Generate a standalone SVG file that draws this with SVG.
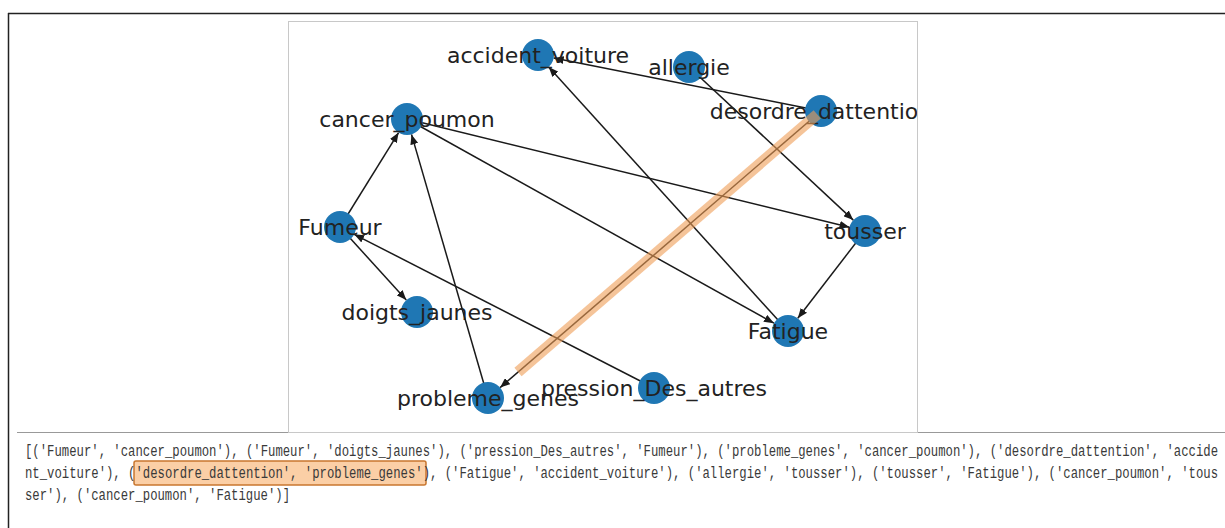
<svg xmlns="http://www.w3.org/2000/svg" width="1225" height="528" viewBox="0 0 1225 528">
<style>
.lbl{font-family:"DejaVu Sans",sans-serif;font-size:22px;fill:#222;text-anchor:middle}
.nd{fill:#1f77b4}
.ed{stroke:#1a1a1a;stroke-width:1.5;fill:none;marker-end:url(#ah)}
.code{font-family:"Liberation Mono",monospace;font-size:16px;fill:#3a3a3a}
</style>
<defs>
<marker id="ah" markerUnits="userSpaceOnUse" markerWidth="10" markerHeight="8" refX="10" refY="4" orient="auto">
<path d="M0,0 L10,4 L0,8 z" fill="#1a1a1a"/>
</marker>
<clipPath id="plot"><rect x="288" y="21" width="629" height="411"/></clipPath>
</defs>
<rect width="1225" height="528" fill="#fff"/>
<g id="frame">
<line x1="8" y1="13.5" x2="1225" y2="13.5" stroke="#222" stroke-width="1.5"/>
<line x1="8.5" y1="13" x2="8.5" y2="528" stroke="#222" stroke-width="1.5"/>
<line x1="17" y1="432.5" x2="1225" y2="432.5" stroke="#999" stroke-width="1"/>
<rect x="288.5" y="21.5" width="629" height="411" fill="#fff" stroke="#c8c8c8" stroke-width="1"/>
</g>
<g clip-path="url(#plot)">
<g id="connectors">
<line class="ed" x1="340" y1="227" x2="398.6" y2="132.6"/>
<line class="ed" x1="340" y1="227" x2="406.3" y2="300.1"/>
<line class="ed" x1="654" y1="388" x2="354.2" y2="234.3"/>
<line class="ed" x1="488" y1="398" x2="411.5" y2="134.4"/>
<line class="ed" x1="821" y1="111" x2="553.7" y2="58.1"/>
<line class="ed" x1="821" y1="111" x2="500.1" y2="387.6"/>
<line class="ed" x1="788" y1="331" x2="548.7" y2="66.9"/>
<line class="ed" x1="689" y1="67" x2="853.3" y2="220.1"/>
<line class="ed" x1="865" y1="231" x2="797.8" y2="318.3"/>
<line class="ed" x1="407" y1="119" x2="849.5" y2="227.2"/>
<line class="ed" x1="407" y1="119" x2="774" y2="323.2"/>
</g>
<g id="node-accident_voiture"><circle class="nd" cx="538" cy="55" r="16"/><text class="lbl" x="538" y="62.5">accident_voiture</text></g>
<g id="node-allergie"><circle class="nd" cx="689" cy="67" r="16"/><text class="lbl" x="689" y="74.5">allergie</text></g>
<g id="node-desordre_dattention"><circle class="nd" cx="821" cy="111" r="16"/><text class="lbl" x="821" y="118.5">desordre_dattention</text></g>
<g id="node-cancer_poumon"><circle class="nd" cx="407" cy="119" r="16"/><text class="lbl" x="407" y="126.5">cancer_poumon</text></g>
<g id="node-Fumeur"><circle class="nd" cx="340" cy="227" r="16"/><text class="lbl" x="340" y="234.5">Fumeur</text></g>
<g id="node-tousser"><circle class="nd" cx="865" cy="231" r="16"/><text class="lbl" x="865" y="238.5">tousser</text></g>
<g id="node-doigts_jaunes"><circle class="nd" cx="417" cy="312" r="16"/><text class="lbl" x="417" y="319.5">doigts_jaunes</text></g>
<g id="node-Fatigue"><circle class="nd" cx="788" cy="331" r="16"/><text class="lbl" x="788" y="338.5">Fatigue</text></g>
<g id="node-probleme_genes"><circle class="nd" cx="488" cy="398" r="16"/><text class="lbl" x="488" y="405.5">probleme_genes</text></g>
<g id="node-pression_Des_autres"><circle class="nd" cx="654" cy="388" r="16"/><text class="lbl" x="654" y="395.5">pression_Des_autres</text></g>
<g id="highlight">
<line x1="817.2" y1="114.3" x2="518" y2="372" stroke="#ef9c55" stroke-opacity="0.6" stroke-width="11"/>
</g>
</g>
<g id="output-text">
<rect x="134" y="461" width="292" height="24" rx="2" fill="#fbcfa6" stroke="#c9772f" stroke-width="1.5"/>
<text class="code" x="25" y="456" textLength="1193" lengthAdjust="spacingAndGlyphs">[('Fumeur', 'cancer_poumon'), ('Fumeur', 'doigts_jaunes'), ('pression_Des_autres', 'Fumeur'), ('probleme_genes', 'cancer_poumon'), ('desordre_dattention', 'accide</text>
<text class="code" x="25" y="478" textLength="1193" lengthAdjust="spacingAndGlyphs">nt_voiture'), ('desordre_dattention', 'probleme_genes'), ('Fatigue', 'accident_voiture'), ('allergie', 'tousser'), ('tousser', 'Fatigue'), ('cancer_poumon', 'tous</text>
<text class="code" x="25" y="500" textLength="265" lengthAdjust="spacingAndGlyphs">ser'), ('cancer_poumon', 'Fatigue')]</text>
</g>
</svg>
